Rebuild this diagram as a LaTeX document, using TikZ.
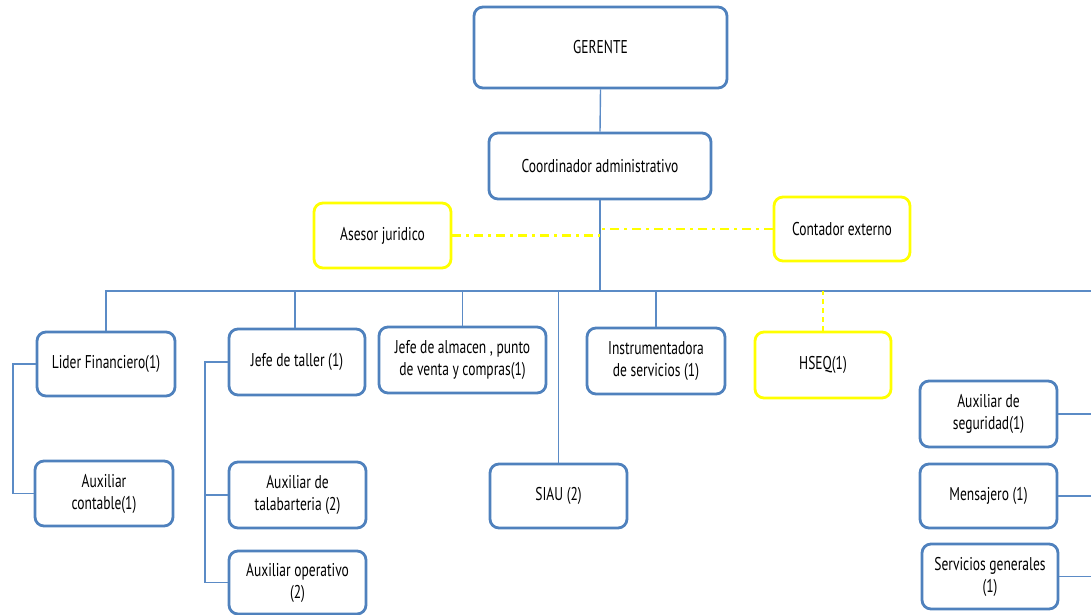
\documentclass[tikz,border=0pt]{standalone}
\usepackage{fontspec}
\setmainfont[FakeStretch=0.73]{PT Sans}
\definecolor{boxblue}{HTML}{4F81BD}
\definecolor{linkblue}{HTML}{5B8BC6}
\definecolor{ylw}{HTML}{FFFF00}
\begin{document}
\begin{tikzpicture}[x=1pt,y=-1pt,
  bb/.style={draw=boxblue, line width=2.8pt, rounded corners=9pt, fill=white,
    align=center, font=\fontsize{18.5}{22}\selectfont, inner sep=2pt},
  yb/.style={bb, draw=ylw},
  conn/.style={draw=linkblue, line width=1.4pt},
  yconn/.style={draw=ylw, line width=2.6pt, dash pattern=on 9pt off 5pt on 3pt off 5pt},
  ydash/.style={draw=ylw, line width=2pt, dash pattern=on 5pt off 4pt}]
\useasboundingbox (0,0) rectangle (1091,615);
% top
\node[bb, minimum width=253pt, minimum height=81pt] (ger) at (600.5,47.5) {GERENTE};
\node[bb, minimum width=222pt, minimum height=66pt] (coord) at (600,166) {Coordinador administrativo};
\node[yb, minimum width=137pt, minimum height=65pt] (ase) at (382.5,235.5) {Asesor juridico};
\node[yb, minimum width=136pt, minimum height=64pt] (cont) at (842,229) {Contador externo};
% row 1
\node[bb, minimum width=138pt, minimum height=64pt] (lid) at (106,364) {Lider Financiero(1)};
\node[bb, minimum width=136pt, minimum height=66pt] (taller) at (297,362) {Jefe de taller (1)};
\node[bb, minimum width=167pt, minimum height=66pt] (alm) at (462.5,360) {Jefe de almacen , punto\\de venta y compras(1)};
\node[bb, minimum width=138pt, minimum height=66pt] (ins) at (656,361) {Instrumentadora\\de servicios (1)};
\node[yb, minimum width=136pt, minimum height=66pt] (hseq) at (823,365) {HSEQ(1)};
% lower
\node[bb, minimum width=138pt, minimum height=65pt] (aux) at (104,493.5) {Auxiliar\\contable(1)};
\node[bb, minimum width=137pt, minimum height=66pt] (tal) at (297.5,495) {Auxiliar de\\talabarteria (2)};
\node[bb, minimum width=137pt, minimum height=63pt] (oper) at (297.5,582.5) {Auxiliar operativo\\(2)};
\node[bb, minimum width=137pt, minimum height=64pt] (siau) at (558.5,496) {SIAU (2)};
\node[bb, minimum width=137pt, minimum height=66pt] (seg) at (988.5,414) {Auxiliar de\\seguridad(1)};
\node[bb, minimum width=137pt, minimum height=64pt] (men) at (988.5,496) {Mensajero (1)};
\node[bb, minimum width=136pt, minimum height=65pt] (serv) at (990,576.5) {Servicios generales\\(1)};
% coordinates
\coordinate (hL) at (105,291);
\coordinate (hR) at (1091,291);
\coordinate (lx) at (13,0);
\coordinate (tx) at (205,0);
\coordinate (tv) at (295,0);
% connectors
\draw[conn] (ger.south) -- (coord.north);
\draw[conn] (coord.south) -- (coord.south |- hL);
\draw[conn] (hL) -- (hR);
\draw[conn] (lid.north) -- (lid.north |- hL);
\draw[conn] (taller.north -| tv) -- (tv |- hL);
\draw[conn] (alm.north) -- (alm.north |- hL);
\draw[conn] (ins.north) -- (ins.north |- hL);
\draw[conn] (siau.north) -- (siau.north |- hL);
\draw[ydash] (hseq.north) -- (hseq.north |- hL);
\draw[yconn] (ase.east) -- (ase.east -| coord.south);
\draw[yconn] (cont.west) -- (cont.west -| coord.south);
\draw[conn] (lid.west) -- (lid.west -| lx) |- (aux.west);
\draw[conn] (taller.west) -- (taller.west -| tx) |- (oper.west);
\draw[conn] (tal.west) -- (tal.west -| tx);
\draw[conn] (seg.east) -- (seg.east -| hR);
\draw[conn] (men.east) -- (men.east -| hR);
\draw[conn] (serv.east) -- (serv.east -| hR);
\end{tikzpicture}
\end{document}
